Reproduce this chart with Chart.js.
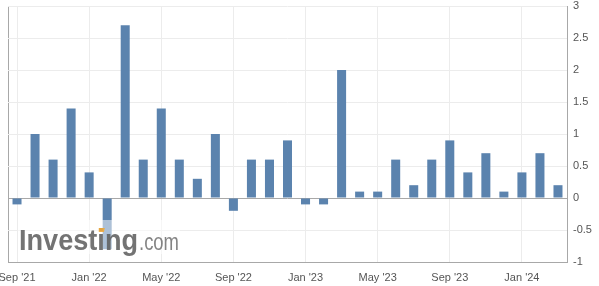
<!DOCTYPE html>
<html><head><meta charset="utf-8">
<script src="https://cdn.jsdelivr.net/npm/chart.js@4/dist/chart.umd.min.js"></script>
<style>html,body{margin:0;padding:0;background:#fff}#w{width:599px;height:286px;position:relative}</style>
</head><body><div id="w"><canvas id="c"></canvas></div>
<script>
const months = ["Sep '21","Oct '21","Nov '21","Dec '21","Jan '22","Feb '22","Mar '22","Apr '22","May '22","Jun '22","Jul '22","Aug '22","Sep '22","Oct '22","Nov '22","Dec '22","Jan '23","Feb '23","Mar '23","Apr '23","May '23","Jun '23","Jul '23","Aug '23","Sep '23","Oct '23","Nov '23","Dec '23","Jan '24","Feb '24","Mar '24"];
const values = [-0.1,1.0,0.6,1.4,0.4,-0.8,2.7,0.6,1.4,0.6,0.3,1.0,-0.2,0.6,0.6,0.9,-0.1,-0.1,2.0,0.1,0.1,0.6,0.2,0.6,0.9,0.4,0.7,0.1,0.4,0.7,0.2];
const shownTicks = ["Sep '21","Jan '22","May '22","Sep '22","Jan '23","May '23","Sep '23","Jan '24"];
const yTicks = [-1,-0.5,0,0.5,1,1.5,2,2.5,3];

const FONT = "'Liberation Sans', Arial, sans-serif";
const watermark = {
  id:'wm',
  beforeDraw(chart){
    const ctx=chart.ctx, a=chart.chartArea;
    ctx.save();
    ctx.strokeStyle='#a8a8a8'; ctx.lineWidth=1;
    ctx.beginPath(); ctx.moveTo(Math.round(a.left)+0.5,a.top); ctx.lineTo(Math.round(a.left)+0.5,a.bottom); ctx.stroke();
    ctx.restore();
  },
  afterDatasetsDraw(chart){
    const ctx=chart.ctx;
    ctx.save();
    ctx.fillStyle='rgba(255,255,255,0.5)';
    ctx.fillRect(18,220,162,34);
    ctx.font="bold 29px "+FONT;
    const w1=ctx.measureText('Investing').width;
    const sx=119/w1;
    ctx.translate(19,250);
    ctx.scale(sx,1);
    ctx.fillStyle='rgba(96,96,96,0.88)';
    ctx.textBaseline='alphabetic';
    ctx.fillText('Investing',0,0);
    const wi=ctx.measureText('Invest').width;
    ctx.fillStyle='rgba(240,170,60,0.9)';
    ctx.beginPath();
    ctx.moveTo(wi+1.5,-22); ctx.lineTo(wi+8,-22); ctx.lineTo(wi+7,-18); ctx.lineTo(wi+1.5,-18); ctx.closePath(); ctx.fill();
    ctx.setTransform(1,0,0,1,0,0);
    ctx.font="23px "+FONT;
    const w2=ctx.measureText('.com').width;
    ctx.translate(139,250);
    ctx.scale(40/w2,1);
    ctx.fillStyle='rgba(110,110,110,0.85)';
    ctx.fillText('.com',0,0);
    ctx.restore();
  }
};

new Chart(document.getElementById('c'),{
  type:'bar',
  data:{labels:months,datasets:[{data:values,backgroundColor:'#5b83ae',barPercentage:0.5,categoryPercentage:1}]},
  options:{
    responsive:true,maintainAspectRatio:false,animation:false,
    layout:{padding:{left:8,top:6,right:0,bottom:0}},
    plugins:{legend:{display:false},tooltip:{enabled:false}},
    scales:{
      x:{
        offset:true,
        grid:{offset:false,drawTicks:false,color:c=>shownTicks.includes(months[c.index])?'#ececec':'rgba(0,0,0,0)'},
        border:{display:true,color:'#a8a8a8'},
        ticks:{autoSkip:false,maxRotation:0,padding:9,color:'#555',font:{family:FONT,size:11},
          callback:(v,i)=>shownTicks.includes(months[i])?months[i]:''},
        afterFit:s=>{s.height=24;s.paddingLeft=0;s.paddingRight=0;}
      },
      y:{
        position:'right',min:-1,max:3,
        afterBuildTicks:s=>{s.ticks=yTicks.map(v=>({value:v}));},
        grid:{drawTicks:false,color:c=>c.tick&&c.tick.value===0?'#a8a8a8':'#ececec'},
        border:{display:true,color:'#a8a8a8'},
        ticks:{padding:6,color:'#555',font:{family:FONT,size:11},callback:v=>String(v)},
        afterFit:s=>{s.width=32;s.paddingTop=0;s.paddingBottom=0;}
      }
    }
  },
  plugins:[watermark]
});
</script></body></html>
